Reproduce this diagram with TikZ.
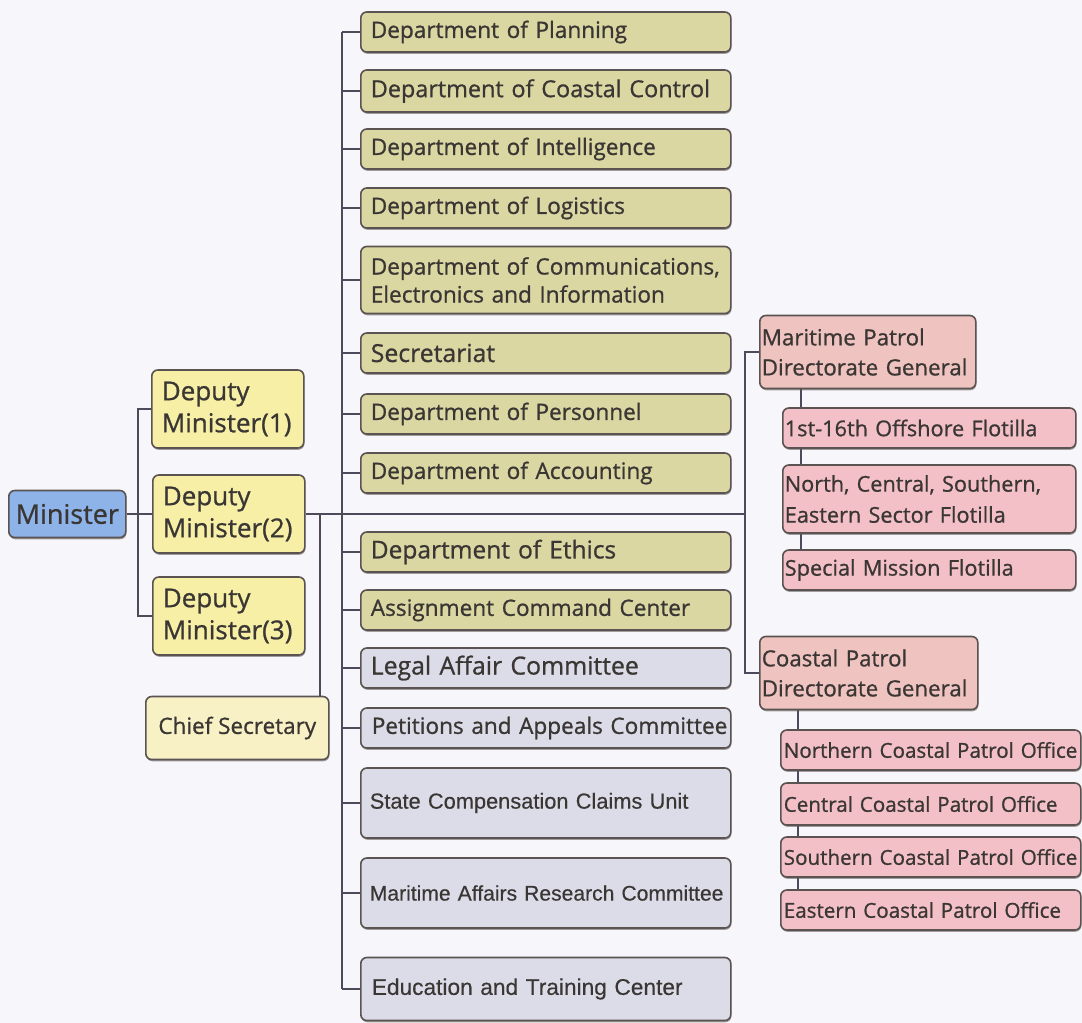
\documentclass[tikz,border=0pt]{standalone}
\usepackage{fontspec}
\setmainfont{Open Sans}[FakeBold=0.9]
\newfontfamily\plainsans{Liberation Sans}[FakeBold=0.4]
\newcommand\fsz[2]{\fontsize{#1}{#2}\selectfont}
\usetikzlibrary{shadows}

\definecolor{paperc}{HTML}{F7F6FA}
\definecolor{wirec}{HTML}{4E4A5C}
\definecolor{edgec}{HTML}{5B5352}
\definecolor{txtc}{HTML}{3A3634}
\definecolor{ministerc}{HTML}{8DB3E8}
\definecolor{deputyc}{HTML}{F7EFA6}
\definecolor{chiefc}{HTML}{F9F1C6}
\definecolor{deptc}{HTML}{DAD7A3}
\definecolor{committeec}{HTML}{DCDCE8}
\definecolor{directc}{HTML}{EFC4C0}
\definecolor{unitc}{HTML}{F3C0C8}

\pgfdeclarelayer{paper}
\pgfdeclarelayer{wires}
\pgfsetlayers{paper,wires,main}

\tikzset{
  box/.style={draw=edgec, line width=1.6, rounded corners=6, anchor=west,
    align=left, text=txtc, inner ysep=0,
    drop shadow={shadow xshift=0.6pt, shadow yshift=-1.8pt, fill=edgec, opacity=0.55}},
  dept/.style={box, fill=deptc, text width=350, inner xsep=10,
    minimum height=40, font=\fsz{22.6}{28}},
  cmte/.style={dept, fill=committeec},
  deputy/.style={box, fill=deputyc, text width=132, inner xsep=10,
    minimum height=78, font=\fsz{26}{32}},
  directorate/.style={box, fill=directc, text width=212, inner xsep=2,
    minimum height=73, font=\fsz{22.3}{30}},
  unit/.style={box, fill=unitc, inner xsep=2, minimum height=40,
    font=\fsz{21.7}{31}},
  office/.style={unit, text width=294, inner xsep=3, font=\fsz{20.6}{26}},
  wire/.style={draw=wirec, line width=2},
}

\begin{document}
\begin{tikzpicture}[x=1pt, y=-1pt]
\begin{pgfonlayer}{paper}
  \fill[paperc] (0,0) rectangle (1082,1023);
\end{pgfonlayer}
\useasboundingbox (0,0) rectangle (1082,1023);

% trunk positions
\coordinate (lt) at (138,0);
\coordinate (csx) at (320,0);
\coordinate (mt) at (342,0);
\coordinate (rt) at (745,0);
\coordinate (s1) at (801,0);
\coordinate (s2) at (798,0);

% top of the hierarchy
\node[box, fill=ministerc, minimum width=117, minimum height=47, align=center,
  inner xsep=0, font=\fsz{27}{30}] (min) at (8,514) {Minister};
\node[deputy] (dm1) at (151,409) {Deputy\\Minister(1)};
\node[deputy] (dm2) at (152,514) {Deputy\\Minister(2)};
\node[deputy] (dm3) at (152,616) {Deputy\\Minister(3)};
\node[box, fill=chiefc, minimum width=183, minimum height=63, align=center,
  inner xsep=0, font=\fsz{22.5}{26}] (cs) at (145,728) {Chief Secretary};

% departments
\node[dept] (plan) at (360,32) {Department of Planning};
\node[dept, minimum height=42, font=\fsz{23.4}{28}] (coast) at (360,91) {\mbox{Department of Coastal Control}};
\node[dept] (intel) at (360,149) {Department of Intelligence};
\node[dept] (logi) at (360,208) {Department of Logistics};
\node[dept, minimum height=67] (comm) at (360,280) {\mbox{Department of Communications,}\\Electronics and Information};
\node[dept, font=\fsz{24.8}{28}] (secr) at (360,353) {Secretariat};
\node[dept] (pers) at (360,414) {Department of Personnel};
\node[dept] (acct) at (360,473) {Department of Accounting};
\node[dept, font=\fsz{24.5}{28}] (eth) at (360,552) {Department of Ethics};
\node[dept] (asgn) at (360,610) {Assignment Command Center};
\node[cmte, font=\fsz{24.8}{28}] (legal) at (360,668) {Legal Affair Committee};
\node[cmte, inner xsep=11, text width=348] (petit) at (360,728) {\mbox{Petitions and Appeals Committee}};
\node[cmte, minimum height=70, inner xsep=9, text width=352, font=\plainsans\fsz{21.8}{26}] (state) at (360,803) {\mbox{State Compensation Claims Unit}};
\node[cmte, minimum height=70, inner xsep=9, text width=352, font=\plainsans\fsz{21.1}{26}] (mar) at (360,893) {\mbox{Maritime Affairs Research Committee}};
\node[cmte, minimum height=63, inner xsep=11, text width=348, font=\plainsans\fsz{22.7}{26}] (edu) at (360,989) {\mbox{Education and Training Center}};

% patrol directorates and their units
\node[directorate] (mp) at (759,352) {Maritime Patrol\\Directorate General};
\node[unit, text width=289] (fl1) at (782,428) {1st-16th Offshore Flotilla};
\node[unit, text width=289, minimum height=68] (fl2) at (782,499) {North, Central, Southern,\\Eastern Sector Flotilla};
\node[unit, text width=289] (fl3) at (782,570) {Special Mission Flotilla};

\node[directorate, text width=214] (cp) at (759,673) {Coastal Patrol\\Directorate General};
\node[office] (no) at (780,750) {\mbox{Northern Coastal Patrol Office}};
\node[office, minimum height=42] (ce) at (780,804) {\mbox{Central Coastal Patrol Office}};
\node[office] (so) at (780,857) {\mbox{Southern Coastal Patrol Office}};
\node[office] (ea) at (780,910) {\mbox{Eastern Coastal Patrol Office}};

% connectors
\begin{pgfonlayer}{wires}
  \draw[wire] (min.east) -- (dm2.west);
  \draw[wire] (dm1.west) -- (dm1.west -| lt) -- (dm3.west -| lt) -- (dm3.west);
  \draw[wire] (dm2.east) -- (dm2.east -| rt);
  \draw[wire] (cs.north -| csx) -- (dm2.east -| csx);
  \draw[wire] (plan.west -| mt) -- (edu.west -| mt);
  \foreach \n in {plan,coast,intel,logi,comm,secr,pers,acct,eth,asgn,legal,petit,state,mar,edu}
    \draw[wire] (\n.west -| mt) -- (\n.west);
  \draw[wire] (mp.west) -- (mp.west -| rt) -- (cp.west -| rt) -- (cp.west);
  \draw[wire] (mp.south -| s1) -- (fl3.center -| s1);
  \draw[wire] (cp.south -| s2) -- (ea.center -| s2);
\end{pgfonlayer}
\end{tikzpicture}
\end{document}
